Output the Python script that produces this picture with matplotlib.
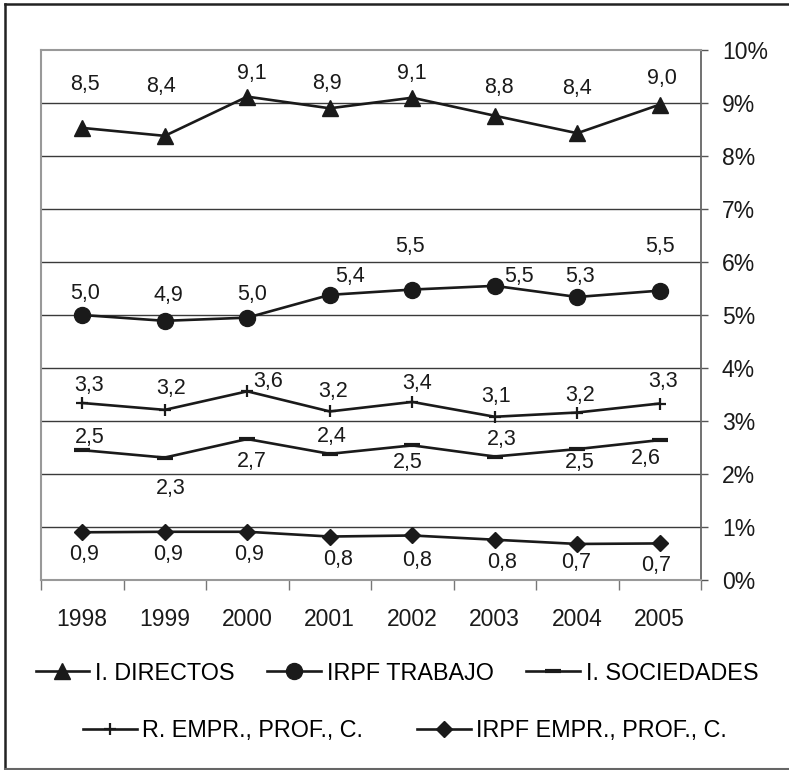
import numpy as np
import matplotlib
matplotlib.use('Agg')
import matplotlib.pyplot as plt
from matplotlib.lines import Line2D

plt.rcParams['font.family'] = ['Liberation Sans', 'DejaVu Sans']

# data (percent)
years = ['1998', '1999', '2000', '2001', '2002', '2003', '2004', '2005']
directos = [8.53, 8.38, 9.12, 8.90, 9.10, 8.76, 8.43, 8.97]
trabajo = [5.00, 4.89, 4.95, 5.38, 5.48, 5.55, 5.34, 5.46]
r_empr = [3.34, 3.21, 3.56, 3.18, 3.36, 3.08, 3.16, 3.33]
sociedades = [2.45, 2.31, 2.66, 2.38, 2.54, 2.33, 2.47, 2.64]
irpf_empr = [0.90, 0.91, 0.91, 0.82, 0.84, 0.76, 0.68, 0.69]
yticks = [0, 1, 2, 3, 4, 5, 6, 7, 8, 9, 10]

# label offsets from each point, in pixels (dx, dy with y going up)
off_directos = [(3, 43), (-4, 49), (5, 23), (-3, 25), (0, 24), (4, 28), (0, 45), (2, 26)]
off_trabajo = [(3, 21), (4, 25), (5, 23), (20, 18), (-2, 43), (24, 9), (3, 20), (0, 44)]
off_rempr = [(7, 17), (6, 21), (21, 10), (3, 20), (5, 18), (1, 20), (3, 17), (3, 22)]
off_soc = [(8, 13), (6, -31), (5, -22), (2, 17), (-4, -17), (7, 17), (3, -13), (-14, -18)]
off_irpf = [(2, -22), (3, -23), (2, -23), (8, -23), (5, -25), (7, -23), (-1, -19), (-4, -22)]

fig = plt.figure(figsize=(7.89, 7.70), dpi=100)
ax = fig.add_axes([41/789, 1-580/770, 660/789, 530/770])

x = np.arange(len(years))
px = 0.72  # points per pixel

series = [
    (directos, 'I. DIRECTOS', dict(marker='^', markersize=12), off_directos),
    (trabajo, 'IRPF TRABAJO', dict(marker='o', markersize=11.5), off_trabajo),
    (sociedades, 'I. SOCIEDADES', dict(marker='_', markersize=11, markeredgewidth=3), off_soc),
    (r_empr, 'R. EMPR., PROF., C.', dict(marker='+', markersize=9, markeredgewidth=1.6), off_rempr),
    (irpf_empr, 'IRPF EMPR., PROF., C.', dict(marker='D', markersize=8.5), off_irpf),
]

handles = []
for vals, name, mk, offs in series:
    l, = ax.plot(x, vals, color='#1a1a1a', lw=1.9, label=name, zorder=3, **mk)
    handles.append(l)
    for xi, v, (dx, dy) in zip(x, vals, offs):
        ax.annotate(f'{v:.1f}'.replace('.', ','), (xi, v), xytext=(dx*px, dy*px),
                    textcoords='offset points', ha='center', va='center',
                    fontsize=15.5, color='#1a1a1a')

ax.set_xlim(-0.5, len(years) - 0.5)
ax.set_ylim(0, 10)

# gridlines
for t in yticks[1:-1]:
    ax.axhline(t, color='#3a3a3a', lw=1.0, zorder=1)

ax.yaxis.tick_right()
ax.set_yticks(yticks)
ax.set_yticklabels([f'{t}%' for t in yticks], fontsize=16.5, color='#1a1a1a')
ax.tick_params(axis='y', length=5, width=1, color='#555555', pad=10)

ax.set_xticks(np.arange(-0.5, len(years)), labels=[''] * (len(years) + 1))
ax.set_xticks(x, labels=years, minor=True)
ax.tick_params(axis='x', which='major', length=7, width=1, color='#777777')
ax.tick_params(axis='x', which='minor', length=0, pad=20, labelsize=16.5, labelcolor='#1a1a1a')

for s in ['left', 'top', 'bottom']:
    ax.spines[s].set_color('#999999')
    ax.spines[s].set_linewidth(1.5)
ax.spines['right'].set_color('#666666')
ax.spines['right'].set_linewidth(1.3)

leg_kw = dict(frameon=False, fontsize=16.8, handlelength=2.3, handletextpad=0.25,
              borderaxespad=0)
leg1 = fig.legend(handles=handles[:3], ncol=3, loc='center', columnspacing=1.4,
                  bbox_to_anchor=(397/789, 1-673/770), **leg_kw)
leg2 = fig.legend(handles=handles[3:], ncol=2, loc='center', columnspacing=2.3,
                  bbox_to_anchor=(405/789, 1-731/770), **leg_kw)

# outer frame (right edge cut off in reference)
fig.add_artist(Line2D([5/789, 5/789], [1-4/770, 1-769/770], color='#222222', lw=1.8))
fig.add_artist(Line2D([5/789, 1], [1-4/770, 1-4/770], color='#222222', lw=1.8))
fig.add_artist(Line2D([5/789, 1], [1-769/770, 1-769/770], color='#666666', lw=1.5))

fig.savefig('out.png', dpi=100)
